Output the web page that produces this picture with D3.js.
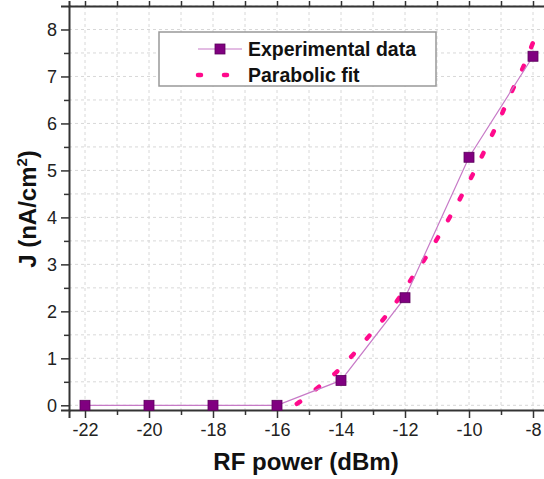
<!DOCTYPE html>
<html>
<head>
<meta charset="utf-8">
<script src="https://cdn.jsdelivr.net/npm/d3@7"></script>
<style>
  html, body { margin: 0; padding: 0; background: #fff; }
  svg { display: block; font-family: "Liberation Sans", Arial, sans-serif; }
</style>
</head>
<body>
<svg id="chart" width="544" height="479"></svg>
<script>
// ---- Data ----
const expPower = [-22, -20, -18, -16, -14, -12, -10, -8];
const expJ     = [0, 0, 0, 0, 0.53, 2.29, 5.28, 7.43];

const fitPower = [-15.6, -15.36, -14.79, -14.2, -13.7, -13.18, -12.68, -12.22, -11.78, -11.33, -10.93, -10.53, -10.03, -9.67, -9.34, -9.0, -8.69, -8.35, -8.0];
const fitJ     = [-0.05, 0.04, 0.34, 0.67, 1.02, 1.43, 1.83, 2.25, 2.71, 3.17, 3.62, 4.09, 4.72, 5.2, 5.67, 6.16, 6.64, 7.13, 7.72];

const xTicks = [-22, -20, -18, -16, -14, -12, -10, -8];
const yTicks = [0, 1, 2, 3, 4, 5, 6, 7, 8];
const legendLabels = ["Experimental data", "Parabolic fit"];
const xTitle = "RF power (dBm)";

// ---- Layout ----
const svg = d3.select("#chart");
const x = d3.scaleLinear().domain([-22.5, -7.5]).range([69, 549]);
const y = d3.scaleLinear().domain([-0.1, 8.5]).range([410, 6]);

const axisColor = "#333";
const fmt = d => String(d); // plain hyphen-minus like the reference

// grid
const gridG = svg.append("g");
gridG.selectAll("line.vx").data(d3.range(-22, -7.5, 1)).enter().append("line")
  .attr("x1", d => x(d)).attr("x2", d => x(d))
  .attr("y1", y.range()[1]).attr("y2", y.range()[0])
  .attr("stroke", "#d8d8d8").attr("stroke-width", 1).attr("stroke-dasharray", "3,3");
gridG.selectAll("line.hy").data(d3.range(0, 8.51, 0.5)).enter().append("line")
  .attr("y1", d => y(d)).attr("y2", d => y(d))
  .attr("x1", x.range()[0]).attr("x2", 544)
  .attr("stroke", "#d8d8d8").attr("stroke-width", 1).attr("stroke-dasharray", "3,3");

// axes
const bottomAxis = d3.axisBottom(x).tickValues(xTicks).tickSize(8).tickPadding(5).tickFormat(fmt);
const gx = svg.append("g").attr("transform", `translate(0,${y.range()[0]})`).call(bottomAxis);
const bottomMinor = d3.axisBottom(x).tickValues(d3.range(-21, -7.5, 2)).tickSize(5).tickFormat("");
const gxm = svg.append("g").attr("transform", `translate(0,${y.range()[0]})`).call(bottomMinor);
gxm.select(".domain").remove();

const leftAxis = d3.axisLeft(y).tickValues(yTicks).tickSize(8).tickPadding(4).tickFormat(fmt);
const gy = svg.append("g").attr("transform", `translate(${x.range()[0]},0)`).call(leftAxis);
const leftMinor = d3.axisLeft(y).tickValues(d3.range(0.5, 8.5, 1)).tickSize(5).tickFormat("");
const gym = svg.append("g").attr("transform", `translate(${x.range()[0]},0)`).call(leftMinor);
gym.select(".domain").remove();

const topAxis = d3.axisTop(x).tickValues(d3.range(-22, -7.5, 1)).tickSize(5).tickFormat("");
const gt = svg.append("g").attr("transform", `translate(0,${y.range()[1]})`).call(topAxis);

[gx, gxm, gy, gym, gt].forEach(g => {
  g.selectAll(".domain").attr("stroke", axisColor).attr("stroke-width", 2);
  g.selectAll(".tick line").attr("stroke", axisColor).attr("stroke-width", 1.5);
  g.selectAll(".tick text").attr("fill", "#222").style("font-size", "18px")
    .style("font-family", "'Liberation Sans', Arial, sans-serif");
});

// axis titles
svg.append("text").attr("x", 306).attr("y", 470).attr("text-anchor", "middle")
  .style("font-size", "24px").style("font-weight", "bold").attr("fill", "#111")
  .text(xTitle);
const yt = svg.append("text").attr("transform", "translate(36,209) rotate(-90)")
  .attr("text-anchor", "middle").style("font-size", "24px").style("font-weight", "bold").attr("fill", "#111");
yt.append("tspan").text("J (nA/cm");
yt.append("tspan").attr("dy", -9).style("font-size", "15px").text("2");
yt.append("tspan").attr("dy", 9).text(")");

// plot contents
const plot = svg.append("g");
const fitLine = d3.line().x((d, i) => x(fitPower[i])).y((d, i) => y(fitJ[i])).curve(d3.curveMonotoneX);
plot.append("path").datum(fitJ).attr("d", fitLine)
  .attr("fill", "none").attr("stroke", "#ff0a8c").attr("stroke-width", 4.5)
  .attr("stroke-linecap", "round").attr("stroke-dasharray", "4,20").attr("stroke-dashoffset", -8);

const expLine = d3.line().x((d, i) => x(expPower[i])).y((d, i) => y(expJ[i]));
plot.append("path").datum(expJ).attr("d", expLine)
  .attr("fill", "none").attr("stroke", "#c77ac7").attr("stroke-width", 1.2);

const ms = 10;
plot.selectAll("rect.m").data(expJ).enter().append("rect")
  .attr("x", (d, i) => x(expPower[i]) - ms / 2).attr("y", d => y(d) - ms / 2)
  .attr("width", ms).attr("height", ms)
  .attr("fill", "#800080").attr("stroke", "#5a005a").attr("stroke-width", 0.8);

// legend
const lg = svg.append("g");
lg.append("rect").attr("x", 159).attr("y", 32).attr("width", 277).attr("height", 54)
  .attr("fill", "#fff").attr("stroke", "#999").attr("stroke-width", 1.5);
lg.append("line").attr("x1", 198).attr("x2", 242).attr("y1", 49).attr("y2", 49)
  .attr("stroke", "#c77ac7").attr("stroke-width", 1.2);
lg.append("rect").attr("x", 220 - ms / 2).attr("y", 49 - ms / 2).attr("width", ms).attr("height", ms)
  .attr("fill", "#800080").attr("stroke", "#5a005a").attr("stroke-width", 0.8);
lg.append("line").attr("x1", 198).attr("x2", 228).attr("y1", 75).attr("y2", 75)
  .attr("stroke", "#ff0a8c").attr("stroke-width", 4.5).attr("stroke-linecap", "round")
  .attr("stroke-dasharray", "3,23");
lg.selectAll("text.l").data(legendLabels).enter().append("text")
  .attr("x", 248).attr("y", (d, i) => 56 + i * 26)
  .style("font-size", "19.5px").style("font-weight", "bold").attr("fill", "#111")
  .text(d => d);
</script>
</body>
</html>
